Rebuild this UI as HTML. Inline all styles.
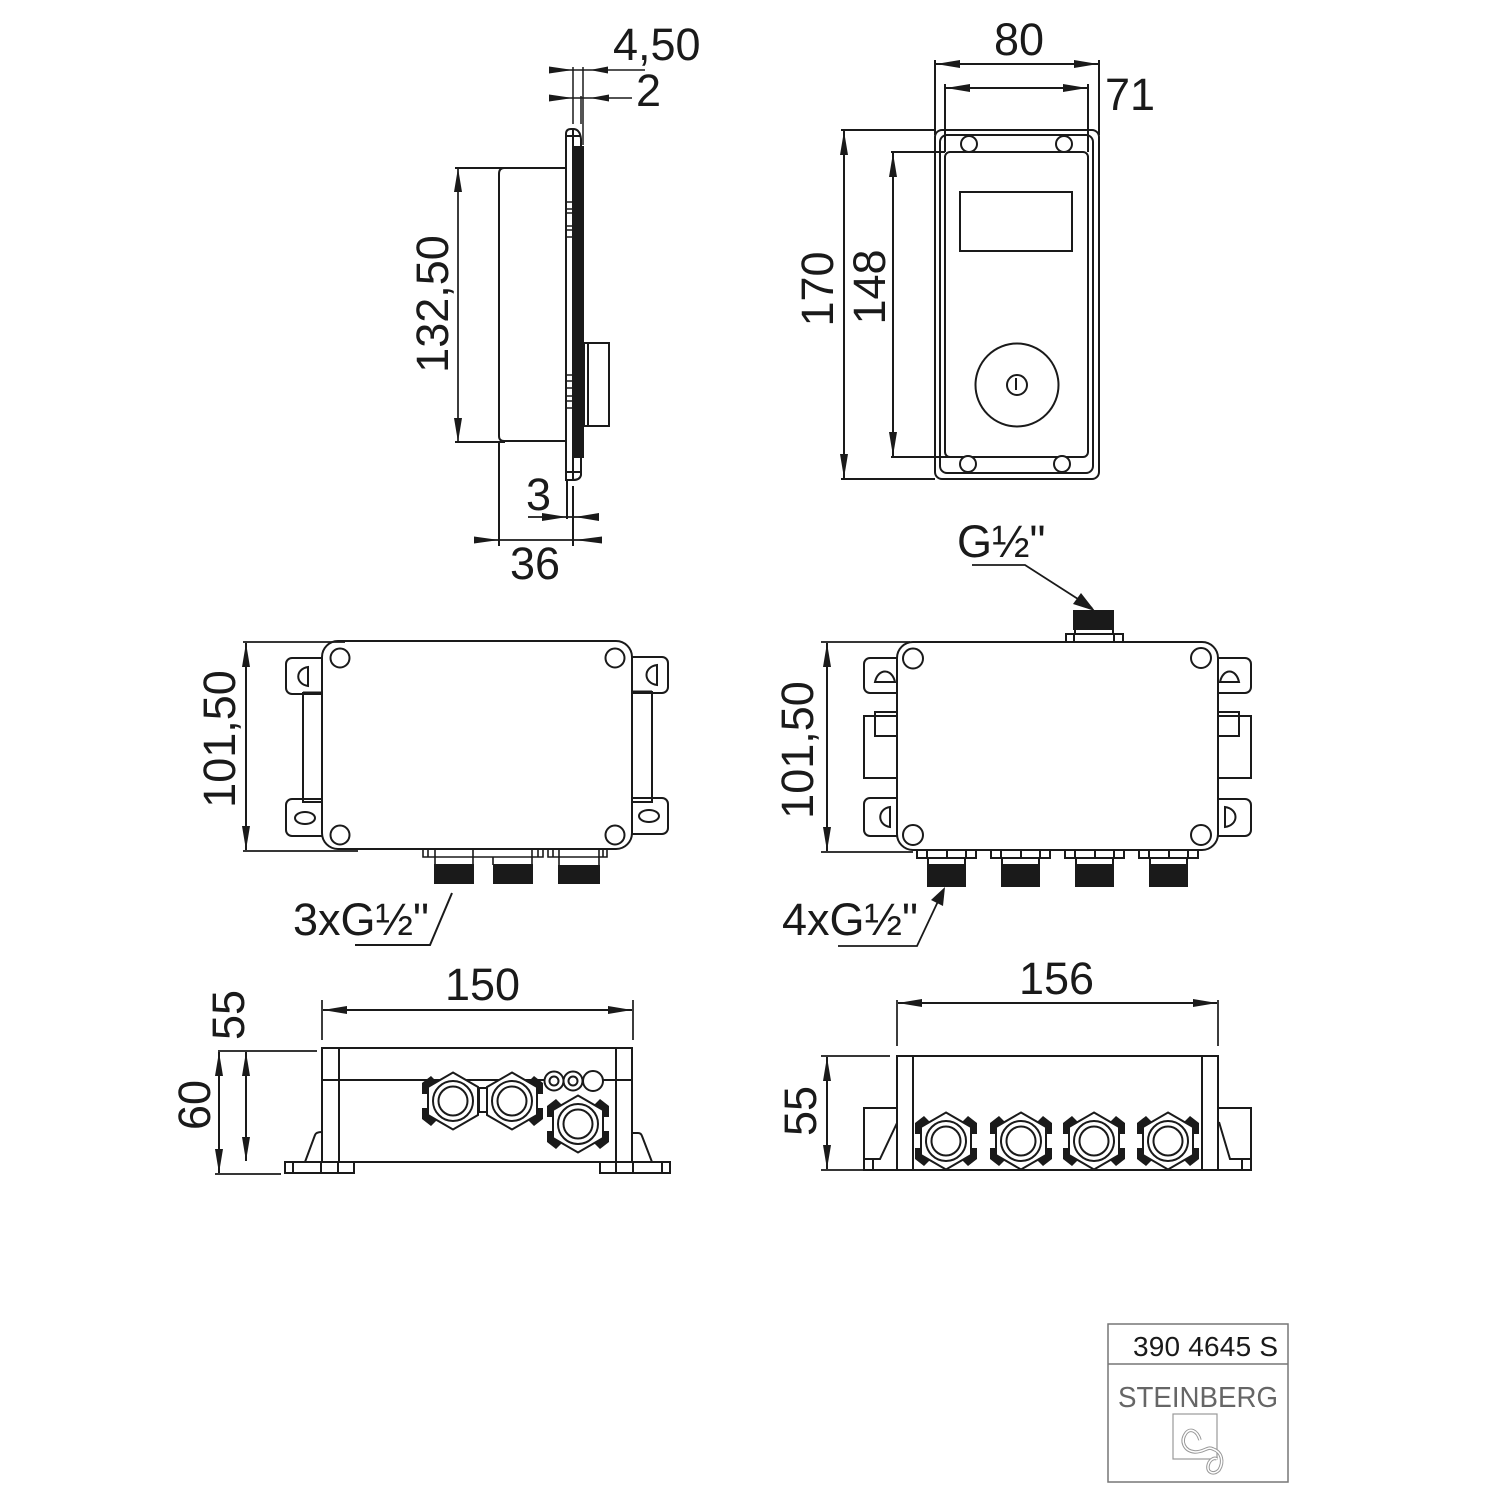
<!DOCTYPE html>
<html><head><meta charset="utf-8"><style>html,body{margin:0;padding:0;background:#fff}svg{display:block}text{font-family:"Liberation Sans",sans-serif;fill:#1a1a1a;font-size:45px}</style></head><body>
<svg xmlns="http://www.w3.org/2000/svg" width="1500" height="1500" viewBox="0 0 1500 1500">
<defs>
<marker id="a" markerUnits="userSpaceOnUse" markerWidth="24" markerHeight="10" refX="24" refY="5" orient="auto-start-reverse"><path d="M0 1L24 5 0 9Z" fill="#1a1a1a"/></marker>
<g id="cTL"><path d="M-31-18L-22-25-16-19-25-14V-7H-31Z" fill="#1a1a1a" stroke="none"/></g>
<g id="hexb"><path d="M0-28.5L25-14V14L0 28.5-25 14V-14Z" fill="#fff"/><circle r="20" fill="#fff"/><circle r="14.5" fill="#fff"/></g>
<g id="cor"><use href="#cTL"/><use href="#cTL" transform="scale(-1,1)"/><use href="#cTL" transform="scale(1,-1)"/><use href="#cTL" transform="scale(-1,-1)"/></g>
<g id="hex"><use href="#cor"/><use href="#hexb"/></g>
<g id="fit"><path d="M0 0H59V8H0ZM11 8V15H48V8M10 0V8M30 0V8M49 0V8" fill="#fff"/><rect x="11" y="15" width="37" height="21" fill="#1a1a1a"/></g>
</defs>
<g fill="none" stroke="#1a1a1a" stroke-width="2">

<!-- side view -->
<path d="M573 67V124M583 67V145M581 96V124" stroke-width="1.500"/>
<path d="M549 70H645M549 98H632" stroke-width="1.500"/>
<path d="M549 66.500L573 70 549 73.500ZM608 66.500L590 70 608 73.500ZM549 94.500L573 98 549 101.500ZM609 94.500L590 98 609 101.500Z" fill="#1a1a1a" stroke="none"/>
<path d="M566 480V134Q566 129 571 129H573Q580 129 581 139V147H583V457H581V475Q580 480 573 480Z"/>
<rect x="574" y="147" width="9" height="310" fill="#1a1a1a" stroke="#1a1a1a"/>
<path d="M573 129V480M566 136H581M566 472H580M574 147V457"/>
<path d="M566 202H573M566 209H573M566 213H573M566 226H573M566 230H573M566 237H573M566 375H573M566 381H573M566 388H573M566 396H573M566 401H573M566 408H573" stroke-width="1.500"/>
<rect x="584" y="343" width="25" height="83"/><path d="M588 343V426"/>
<path d="M455 168H566M504 168Q499 168 499 174V436Q499 441 504 441H566M455 442H505"/>
<path d="M499 441V546M567 480V519M573 486V546"/>
<line x1="458" y1="168" x2="458" y2="442" marker-start="url(#a)" marker-end="url(#a)" stroke-width="1.700"/>
<path d="M474 540H602M528 517H599" stroke-width="1.700"/>
<path d="M474 536.500L499 540 474 543.500ZM602 536.500L575 540 602 543.500ZM542 513L567 517 542 521ZM599 513L575 517 599 521Z" fill="#1a1a1a" stroke="none"/>

<!-- front view -->
<rect x="935" y="130" width="164" height="349" rx="7"/>
<rect x="940" y="135" width="153" height="338" rx="7"/>
<rect x="945" y="152" width="143" height="305" rx="5"/>
<path d="M935 60V135M1099 60V135M945 84V152M1088 84V152"/>
<path d="M841 130H935M891 152H945M891 457H960M841 479H935"/>
<g fill="#fff"><circle cx="969" cy="144" r="8"/><circle cx="1064" cy="144" r="8"/><circle cx="968" cy="464" r="8"/><circle cx="1062" cy="464" r="8"/></g>
<rect x="960" y="192" width="112" height="59"/>
<circle cx="1017" cy="385" r="41.500"/><circle cx="1017" cy="385" r="10"/><path d="M1016 378V390"/>
<line x1="844" y1="131" x2="844" y2="478" marker-start="url(#a)" marker-end="url(#a)"/>
<line x1="893" y1="153" x2="893" y2="456" marker-start="url(#a)" marker-end="url(#a)"/>
<line x1="936" y1="64" x2="1098" y2="64" marker-start="url(#a)" marker-end="url(#a)"/>
<line x1="946" y1="88" x2="1087" y2="88" marker-start="url(#a)" marker-end="url(#a)"/>

<!-- left box -->
<path d="M322 693H303V802H322M632 692H652V802H632"/>
<path d="M303 693H322M632 692H652" stroke-width="3"/>
<rect x="286" y="658" width="60" height="36" rx="6"/>
<rect x="286" y="799" width="60" height="37" rx="6"/>
<rect x="610" y="657" width="58" height="36" rx="6"/>
<rect x="610" y="798" width="58" height="36" rx="6"/>
<rect x="322" y="641" width="310" height="208" rx="16" fill="#fff"/>
<g><circle cx="340" cy="658" r="9.500"/><circle cx="615" cy="658" r="9.500"/><circle cx="340" cy="835" r="9.500"/><circle cx="615" cy="835" r="9.500"/></g>
<path d="M308 667V686C295 684 295 669 308 667ZM657 665V685C643 683 643 667 657 665Z"/>
<ellipse cx="305" cy="818" rx="10" ry="6"/><ellipse cx="649" cy="816" rx="10" ry="6"/>
<path d="M243 642H345M243 851H358" stroke-width="1.700"/>
<line x1="246" y1="643" x2="246" y2="850" marker-start="url(#a)" marker-end="url(#a)"/>
<path d="M423 849V857H543V849M428 849V857M435 849V857M473 849V857M532 849V857M538 849V857M548 849V857H607V849M553 849V857M559 849V857M599 849V857M603 849V857M435 857V865M473 857V865M493 857V865M532 857V865M559 857V865M599 857V865" stroke-width="1.600"/>
<g fill="#1a1a1a"><rect x="435" y="865" width="38" height="18"/><rect x="494" y="865" width="38" height="18"/><rect x="559" y="866" width="40" height="17"/></g>
<path d="M355 945H430L452 893"/>

<!-- right box -->
<rect x="864" y="716" width="60" height="62"/><rect x="875" y="712" width="40" height="24"/>
<rect x="1190" y="716" width="61" height="62"/><rect x="1190" y="712" width="49" height="24"/>
<rect x="864" y="658" width="60" height="35" rx="6"/>
<rect x="864" y="798" width="60" height="38" rx="6"/>
<rect x="1190" y="658" width="61" height="35" rx="6"/>
<rect x="1190" y="799" width="61" height="37" rx="6"/>
<rect x="897" y="642" width="321" height="208" rx="16" fill="#fff"/>
<g><circle cx="913" cy="658.500" r="10"/><circle cx="1201" cy="658" r="10"/><circle cx="913" cy="835" r="10"/><circle cx="1201" cy="835" r="10"/></g>
<path d="M875 682H895C892 668 878 668 875 682ZM1220 682H1239C1236 668 1223 668 1220 682ZM890 807V827C877 825 877 809 890 807ZM1225 807V827C1239 825 1239 809 1225 807Z"/>
<path d="M821 642H910M821 852H913" stroke-width="1.700"/>
<line x1="827" y1="643" x2="827" y2="851" marker-start="url(#a)" marker-end="url(#a)"/>
<path d="M1066 642V634H1123V642M1074 634V642M1114 634V642M1075 634V629M1113 634V629"/>
<rect x="1074" y="611" width="39" height="18" fill="#1a1a1a"/>
<use href="#fit" transform="translate(917,850)"/><use href="#fit" transform="translate(991,850)"/><use href="#fit" transform="translate(1065,850)"/><use href="#fit" transform="translate(1139,850)"/>
<path d="M972 565H1025L1092 608" stroke-width="1.800"/>
<path d="M1095 611L1073 604 1081 593Z" fill="#1a1a1a" stroke="none"/>
<path d="M838 946H917L941 895" stroke-width="1.800"/>
<path d="M945 887L943 906 931 900Z" fill="#1a1a1a" stroke="none"/>

<!-- bottom left -->
<rect x="322" y="1048" width="310" height="114"/>
<path d="M339 1048V1162M616 1048V1162M322 1080H632"/>
<path d="M285 1162H354V1173H285ZM293 1162V1173M321 1162V1173M338 1162V1173M600 1162H670V1173H600ZM616 1162V1173M633 1162V1173M662 1162V1173"/>
<path d="M305 1162L315 1135Q316 1132 322 1132M633 1133H638Q641 1133 642 1136L652 1162"/>
<path d="M322 1000V1040M633 1000V1040M218 1051H317M215 1174H281" stroke-width="1.700"/>
<line x1="323" y1="1010" x2="632" y2="1010" marker-start="url(#a)" marker-end="url(#a)"/>
<line x1="219" y1="1052" x2="219" y2="1173" marker-start="url(#a)" marker-end="url(#a)"/>
<line x1="246" y1="1052" x2="246" y2="1161" marker-start="url(#a)" marker-end="url(#a)"/>
<rect x="479" y="1088" width="8" height="24" fill="#fff"/>
<g transform="translate(453,1101)"><use href="#cTL"/><use href="#cTL" transform="scale(1,-1)"/><use href="#hexb"/></g>
<g transform="translate(512,1101)"><use href="#cTL" transform="scale(-1,1)"/><use href="#cTL" transform="scale(-1,-1)"/><use href="#hexb"/></g>
<use href="#hex" transform="translate(578,1124)"/>
<g fill="#fff"><circle cx="554" cy="1081" r="9.500"/><circle cx="554" cy="1081" r="4.500"/><circle cx="573" cy="1081" r="9.500"/><circle cx="573" cy="1081" r="4.500"/><circle cx="593" cy="1081" r="10"/></g>

<!-- bottom right -->
<rect x="897" y="1056" width="321" height="114"/>
<path d="M913 1056V1170M1202 1056V1170"/>
<path d="M897 1108H864V1170H897M897 1123L880 1159H864M873 1159V1170M1218 1108H1251V1170H1218M1219 1122L1230 1159H1251M1242 1159V1170"/>
<path d="M897 1000V1046M1218 1000V1046M821 1056H890M821 1170H897" stroke-width="1.700"/>
<line x1="898" y1="1003" x2="1217" y2="1003" marker-start="url(#a)" marker-end="url(#a)"/>
<line x1="827" y1="1057" x2="827" y2="1169" marker-start="url(#a)" marker-end="url(#a)"/>
<use href="#hex" transform="translate(946,1141)"/><use href="#hex" transform="translate(1021,1141)"/><use href="#hex" transform="translate(1094,1141)"/><use href="#hex" transform="translate(1168,1141)"/>
<path d="M897 1170H1218"/>

<!-- title block -->
<g stroke="#777" stroke-width="1.500">
<rect x="1108" y="1324" width="180" height="158"/><path d="M1108 1364H1288"/>
<rect x="1173" y="1414" width="44" height="45" stroke="#999" stroke-width="1.200"/>
<path id="curl" d="M1200 1440C1197 1430 1190 1428 1186 1433 1180 1441 1184 1451 1195 1452 1205 1452 1207 1446 1213 1449 1222 1452 1224 1462 1219 1470 1214 1475 1207 1473 1208 1466 1209 1460 1214 1457 1217 1459" stroke="#999" stroke-width="3.500"/>
<path d="M1200 1440C1197 1430 1190 1428 1186 1433 1180 1441 1184 1451 1195 1452 1205 1452 1207 1446 1213 1449 1222 1452 1224 1462 1219 1470 1214 1475 1207 1473 1208 1466 1209 1460 1214 1457 1217 1459" stroke="#fff" stroke-width="1.500"/>
</g>
</g>

<text x="613" y="60">4,50</text>
<text x="636" y="106">2</text>
<text x="1105" y="110">71</text>
<text x="994" y="55">80</text>
<text transform="translate(448,304) rotate(-90)" text-anchor="middle">132,50</text>
<text transform="translate(833,289) rotate(-90)" text-anchor="middle">170</text>
<text transform="translate(885,287) rotate(-90)" text-anchor="middle">148</text>
<text x="526" y="510">3</text>
<text x="510" y="579">36</text>
<text x="957" y="557">G½"</text>
<text transform="translate(235,739) rotate(-90)" text-anchor="middle">101,50</text>
<text transform="translate(813,750) rotate(-90)" text-anchor="middle">101,50</text>
<text x="293" y="935">3xG½"</text>
<text x="782" y="935">4xG½"</text>
<text x="445" y="1000">150</text>
<text x="1019" y="994">156</text>
<text transform="translate(244,1015) rotate(-90)" text-anchor="middle">55</text>
<text transform="translate(210,1105) rotate(-90)" text-anchor="middle">60</text>
<text transform="translate(816,1111) rotate(-90)" text-anchor="middle">55</text>
<text x="1133" y="1356" textLength="145" style="font-size:28px">390 4645 S</text>
<text x="1118" y="1407" textLength="160" lengthAdjust="spacingAndGlyphs" style="font-size:29px;fill:#666">STEINBERG</text>
</svg>
</body></html>
